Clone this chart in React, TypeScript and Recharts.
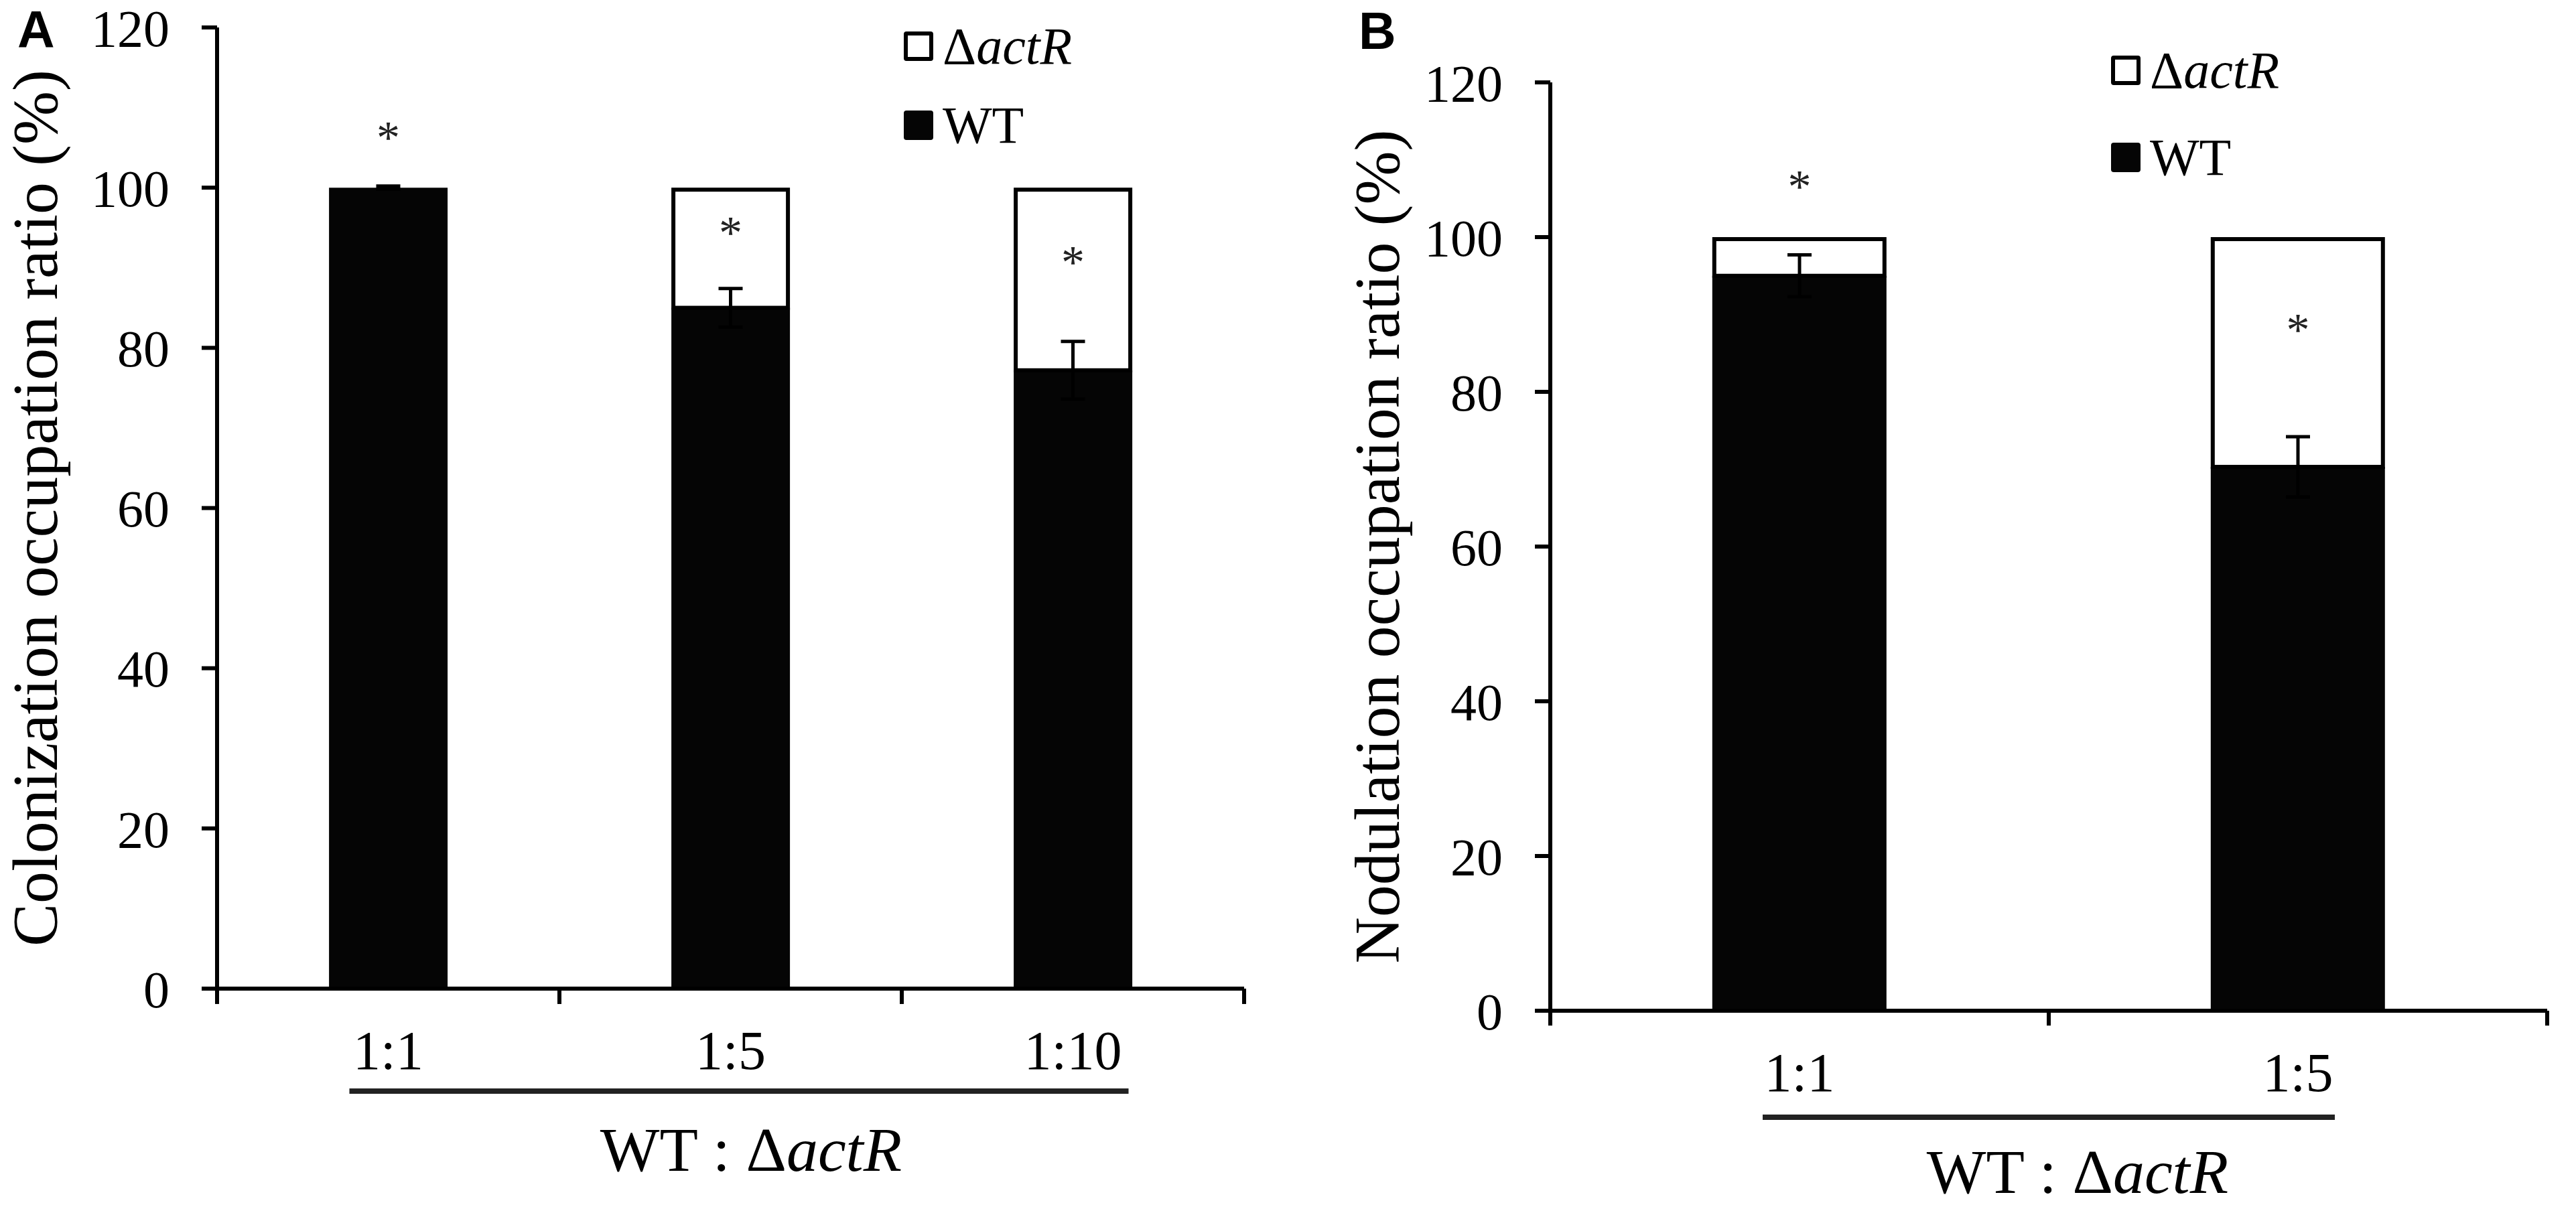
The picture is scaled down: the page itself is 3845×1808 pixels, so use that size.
import React from 'react';
import { ComposedChart, Bar, Line, XAxis, YAxis, ErrorBar, Legend, ReferenceLine } from 'recharts';

const SERIF = '"Liberation Serif", "Times New Roman", serif';
const SANS = '"Liberation Sans", Arial, sans-serif';

// Panel A: colonization occupation
const ratiosA = ['1:1', '1:5', '1:10'];
const wtA = [100, 85, 77.2];
const mutantA = [0, 15, 22.8];
const wtErrA = [0.2, 2.4, 3.6];
const starA = [107, 95.2, 91.5];

// Panel B: nodulation occupation
const ratiosB = ['1:1', '1:5'];
const wtB = [95, 70.3];
const mutantB = [5, 29.7];
const wtErrB = [2.7, 3.9];
const starB = [107.4, 88.8];

const yTicks = [0, 20, 40, 60, 80, 100, 120];

const rowsA = ratiosA.map((r, i) => ({ ratio: r, wt: wtA[i], mut: mutantA[i], err: wtErrA[i], star: starA[i] }));
const rowsB = ratiosB.map((r, i) => ({ ratio: r, wt: wtB[i], mut: mutantB[i], err: wtErrB[i], star: starB[i] }));

const axisStroke = { stroke: '#000', strokeWidth: 6 };
const EDGE_TICK = -1.92; // length of the boundary ticks below the x axis, in y units

// white segment: outline kept inside the bar like the original
function OpenBar(props: any) {
  const { x, y, width, height } = props;
  if (!height || height <= 0) return <g />;
  return (
    <rect x={x + 3} y={y + 3} width={width - 6} height={height - 3}
      fill="#fff" stroke="#000" strokeWidth={6} />
  );
}

function Star(props: any) {
  const { cx, cy, index } = props;
  if (cx == null || cy == null) return <g key={`st${index}`} />;
  return (
    <text key={`st${index}`} x={cx} y={cy + 33} textAnchor="middle"
      fontSize={70} fontFamily={SERIF} fill="#222">*</text>
  );
}

function YTitle(props: any) {
  const { viewBox, text, x0 } = props;
  const cy = viewBox.y + viewBox.height / 2;
  return (
    <text transform={`translate(${viewBox.x + x0}, ${cy}) rotate(-90)`} textAnchor="middle"
      dominantBaseline="central" fontSize={96} fontFamily={SERIF} fill="#000">{text}</text>
  );
}

function GroupLabel(props: any) {
  const { viewBox, count, pad, dx, lineY } = props;
  const { x, y, width } = viewBox;
  const bw = width / count;
  const x1 = x + bw / 2 - pad[0];
  const x2 = x + width - bw / 2 + pad[1];
  return (
    <g>
      <line x1={x1} x2={x2} y1={y + lineY} y2={y + lineY} stroke="#222" strokeWidth={8} />
      <text x={(x1 + x2) / 2 + dx} y={y + 240} textAnchor="middle" dominantBaseline="central"
        fontSize={94} fontFamily={SERIF} fill="#000">
        WT : Δ<tspan fontStyle="italic">actR</tspan>
      </text>
    </g>
  );
}

function legendContent(gap: number) {
  return (props: any) => {
    const items = [...(props.payload || [])]
      .filter((e: any) => e.type !== 'none' && (e.dataKey === 'wt' || e.dataKey === 'mut'))
      .reverse();
    return (
      <div style={{ display: 'flex', flexDirection: 'column', gap }}>
        {items.map((e: any) => {
          const open = e.dataKey === 'mut';
          return (
            <div key={e.dataKey} style={{ display: 'flex', alignItems: 'center', height: 44 }}>
              <span style={{
                width: 44, height: 44, boxSizing: 'border-box', borderRadius: 4,
                background: open ? '#fff' : '#050505', border: open ? '6px solid #000' : 'none',
              }} />
              <span style={{ marginLeft: 14, fontFamily: SERIF, fontSize: 78, lineHeight: '44px', whiteSpace: 'nowrap', color: '#000' }}>
                {open ? <>Δ<i>actR</i></> : 'WT'}
              </span>
            </div>
          );
        })}
      </div>
    );
  };
}

function Panel(p: any) {
  const n = p.rows.length;
  const last = p.rows[n - 1].ratio;
  return (
    <ComposedChart width={p.width} height={p.height} data={p.rows} margin={p.margin} barCategoryGap={p.barGap}>
      <XAxis xAxisId="cat" dataKey="ratio" height={1} interval={0} tickLine={false} tickSize={0} tickMargin={62}
        axisLine={axisStroke} tick={{ fill: '#000', fontSize: 82, fontFamily: SERIF }}
        label={<GroupLabel count={n} pad={p.pad} dx={p.groupDx} lineY={p.lineY} />} />
      <YAxis width={p.yAxisWidth} domain={[0, 120]} ticks={yTicks} interval={0} tickSize={23} tickMargin={48}
        axisLine={axisStroke} tickLine={axisStroke} tick={{ fill: '#000', fontSize: 78, fontFamily: SERIF }}
        label={<YTitle text={p.title} x0={p.titleX} />} />
      <Legend layout="vertical" align="center" verticalAlign="middle" content={legendContent(p.legendGap)}
        wrapperStyle={{ left: p.legendLeft, top: p.legendTop, width: 'auto' }} />
      <Bar xAxisId="cat" dataKey="wt" name="WT" stackId="s" fill="#050505" isAnimationActive={false} />
      <Bar xAxisId="cat" dataKey="mut" name="ΔactR" stackId="s" fill="#fff" stroke="#000"
        shape={(s: any) => <OpenBar {...s} />} isAnimationActive={false} />
      <Line xAxisId="cat" dataKey="wt" stroke="none" dot={false} activeDot={false} legendType="none" isAnimationActive={false}>
        <ErrorBar dataKey="err" direction="y" width={18} stroke="#000" strokeWidth={5} />
      </Line>
      <Line xAxisId="cat" dataKey="star" stroke="none" dot={(s: any) => <Star {...s} key={`st${s.index}`} />}
        activeDot={false} legendType="none" isAnimationActive={false} />
      {/* Excel-style ticks between categories */}
      {p.rows.map((r: any) => (
        <ReferenceLine key={`edge-${r.ratio}`} xAxisId="cat" position="start" ifOverflow="visible"
          segment={[{ x: r.ratio, y: 0 }, { x: r.ratio, y: EDGE_TICK }]} stroke="#000" strokeWidth={6} />
      ))}
      <ReferenceLine xAxisId="cat" position="end" ifOverflow="visible"
        segment={[{ x: last, y: 0 }, { x: last, y: EDGE_TICK }]} stroke="#000" strokeWidth={6} />
    </ComposedChart>
  );
}

export default function App() {
  return (
    <div style={{ position: 'absolute', left: 0, top: 0, width: 3845, height: 1808, background: '#fff', overflow: 'hidden' }}>
      <div style={{ position: 'absolute', left: 26, top: 6, fontFamily: SANS, fontWeight: 700, fontSize: 77, lineHeight: 1 }}>A</div>
      <div style={{ position: 'absolute', left: 2028, top: 8, fontFamily: SANS, fontWeight: 700, fontSize: 77, lineHeight: 1 }}>B</div>
      <div style={{ position: 'absolute', left: 0, top: 0 }}>
        <Panel rows={rowsA} width={1930} height={1808} margin={{ top: 41, right: 73, bottom: 331, left: 0 }}
          yAxisWidth={324} barGap="32.7%" title="Colonization occupation ratio (%)" titleX={52}
          legendLeft={1349} legendTop={47} legendGap={74} pad={[58, 83]} groupDx={18} lineY={153} />
      </div>
      <div style={{ position: 'absolute', left: 1930, top: 0 }}>
        <Panel rows={rowsB} width={1915} height={1808} margin={{ top: 123, right: 43, bottom: 298, left: 0 }}
          yAxisWidth={384} barGap="32.5%" title="Nodulation occupation ratio (%)" titleX={125}
          legendLeft={1221} legendTop={83} legendGap={86} pad={[55, 55]} groupDx={43} lineY={159} />
      </div>
    </div>
  );
}
